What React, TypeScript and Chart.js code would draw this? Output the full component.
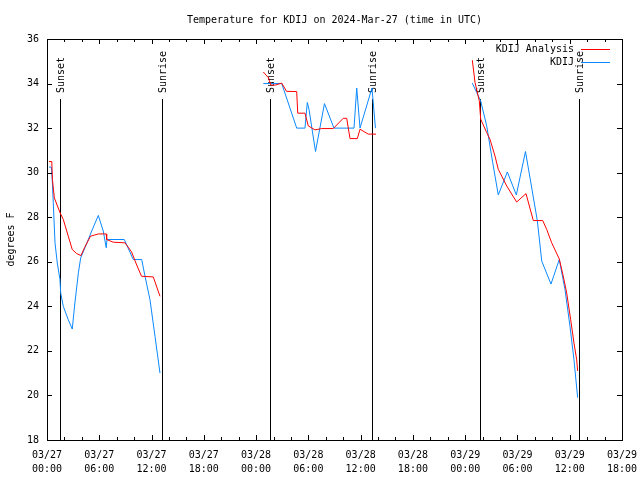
import React, { useEffect, useRef } from "react";
import { Chart, registerables } from "chart.js";

Chart.register(...registerables);

const TITLE = "Temperature for KDIJ on 2024-Mar-27 (time in UTC)";
const Y_TITLE = "degrees F";
const FONT = "'DejaVu Sans Mono', 'Liberation Mono', monospace";

// x axis: hours since 03/27 00:00 UTC
const X_MIN = 0;
const X_MAX = 66;
const xTickDays = ["03/27", "03/27", "03/27", "03/27", "03/28", "03/28", "03/28", "03/28", "03/29", "03/29", "03/29", "03/29"];
const xTickTimes = ["00:00", "06:00", "12:00", "18:00", "00:00", "06:00", "12:00", "18:00", "00:00", "06:00", "12:00", "18:00"];
const Y_MIN = 18;
const Y_MAX = 36;

const sunsetHours = [1.53, 25.63, 49.66];
const sunriseHours = [13.24, 37.3, 61.1];
const sunLineTop = 33.32;

// KDIJ Analysis (red)
const analysis1Hours = [0.23, 0.55, 0.62, 0.84, 1.5, 1.87, 2.44, 2.9, 3.4, 3.9, 4.3, 5.0, 5.9, 6.8, 6.85, 7.6, 8.95, 9.7, 10.3, 10.85, 12.2, 12.97];
const analysis1Temps = [30.5, 30.5, 29.7, 28.87, 28.2, 27.9, 27.15, 26.55, 26.37, 26.28, 26.63, 27.15, 27.25, 27.25, 27.0, 26.88, 26.85, 26.45, 25.85, 25.35, 25.32, 24.45];
const analysis2Hours = [24.83, 25.4, 25.7, 26.2, 26.94, 27.5, 28.66, 28.78, 29.61, 29.99, 30.76, 31.53, 32.86, 34.0, 34.4, 34.78, 35.62, 35.93, 36.88, 37.76];
const analysis2Temps = [34.52, 34.27, 33.93, 33.93, 34.02, 33.65, 33.64, 32.67, 32.67, 32.1, 31.92, 31.98, 31.98, 32.44, 32.44, 31.53, 31.53, 31.95, 31.73, 31.73];
const analysis3Hours = [48.82, 49.13, 49.62, 49.78, 50.47, 50.85, 51.42, 51.8, 52.77, 53.91, 54.98, 55.82, 56.9, 57.36, 57.93, 58.8, 59.26, 59.65, 60.11, 60.49, 60.8, 60.91];
const analysis3Temps = [35.05, 34.05, 33.22, 32.4, 31.8, 31.5, 30.75, 30.15, 29.4, 28.68, 29.06, 27.85, 27.85, 27.45, 26.85, 26.13, 25.35, 24.6, 23.4, 22.35, 21.6, 21.1];

// KDIJ observations (blue)
const obs1Hours = [0.23, 0.5, 0.6, 0.72, 0.92, 1.18, 1.49, 1.57, 1.87, 2.44, 2.9, 3.2, 3.6, 3.87, 4.36, 5.13, 5.89, 6.46, 6.8, 6.89, 8.87, 9.9, 10.87, 11.25, 11.82, 12.4, 12.97];
const obs1Temps = [30.25, 30.25, 29.7, 28.65, 26.85, 25.95, 25.2, 24.6, 24.0, 23.4, 22.98, 24.15, 25.5, 26.18, 26.63, 27.38, 28.08, 27.38, 26.63, 27.0, 27.0, 26.1, 26.1, 25.35, 24.3, 22.65, 21.0];
const obs2Hours = [24.83, 26.94, 28.66, 29.61, 29.88, 30.07, 30.82, 31.85, 32.94, 35.24, 35.55, 35.93, 37.3, 37.7];
const obs2Temps = [34.0, 34.0, 32.0, 32.0, 33.15, 32.85, 30.95, 33.1, 32.0, 32.0, 33.8, 32.0, 33.8, 32.0];
const obs3Hours = [48.82, 49.32, 49.78, 50.47, 51.16, 51.8, 52.84, 53.87, 54.92, 56.28, 56.79, 57.85, 58.8, 59.46, 60.03, 60.49, 60.91];
const obs3Temps = [34.02, 33.6, 33.22, 32.1, 30.45, 29.0, 30.03, 29.0, 30.95, 27.85, 26.03, 25.0, 26.1, 24.75, 23.1, 21.6, 19.9];

const RED = "#ff0000";
const BLUE = "#0a88ff";

type Pt = { x: number; y: number | null };

function joinSegments(segs: [number[], number[]][]): Pt[] {
  const out: Pt[] = [];
  segs.forEach(([hs, ts], i) => {
    if (i > 0) out.push({ x: (hs[0] + out[out.length - 1].x) / 2, y: null });
    hs.forEach((h, j) => out.push({ x: h, y: ts[j] }));
  });
  return out;
}

const decorPlugin = {
  id: "decor",
  beforeDatasetsDraw(chart: any) {
    const { ctx, chartArea, scales } = chart;
    const xs = scales.x;
    const ys = scales.y;
    ctx.save();
    ctx.strokeStyle = "#000";
    ctx.lineWidth = 1;
    const yTop = Math.round(ys.getPixelForValue(sunLineTop));
    const drawSun = (h: number, label: string) => {
      const px = Math.round(xs.getPixelForValue(h)) + 0.5;
      ctx.beginPath();
      ctx.moveTo(px, yTop);
      ctx.lineTo(px, chartArea.bottom);
      ctx.stroke();
      ctx.save();
      ctx.translate(px + 0.5, yTop - 6);
      ctx.rotate(-Math.PI / 2);
      ctx.fillStyle = "#000";
      ctx.font = `10px ${FONT}`;
      ctx.textAlign = "left";
      ctx.textBaseline = "middle";
      ctx.fillText(label, 0, 0);
      ctx.restore();
    };
    sunsetHours.forEach((h) => drawSun(h, "Sunset"));
    sunriseHours.forEach((h) => drawSun(h, "Sunrise"));
    ctx.restore();
  },
  afterDraw(chart: any) {
    const { ctx, chartArea, scales } = chart;
    const xs = scales.x;
    const ys = scales.y;
    const { left, right, top, bottom } = chartArea;
    ctx.save();
    ctx.strokeStyle = "#000";
    ctx.lineWidth = 1;
    ctx.strokeRect(Math.round(left) + 0.5, Math.round(top) + 0.5, Math.round(right - left), Math.round(bottom - top));
    ctx.beginPath();
    for (let h = X_MIN; h <= X_MAX; h += 2) {
      const px = Math.round(xs.getPixelForValue(h)) + 0.5;
      const len = h % 6 === 0 ? 5 : 3;
      ctx.moveTo(px, bottom);
      ctx.lineTo(px, bottom - len);
      ctx.moveTo(px, top);
      ctx.lineTo(px, top + len);
    }
    for (let v = Y_MIN; v <= Y_MAX; v += 2) {
      const py = Math.round(ys.getPixelForValue(v)) + 0.5;
      ctx.moveTo(left, py);
      ctx.lineTo(left + 5, py);
      ctx.moveTo(right, py);
      ctx.lineTo(right - 5, py);
    }
    ctx.stroke();

    ctx.fillStyle = "#000";
    ctx.font = `10px ${FONT}`;
    ctx.textAlign = "center";
    ctx.textBaseline = "middle";
    ctx.fillText(TITLE, (left + right) / 2, 20);

    ctx.save();
    ctx.translate(11, (top + bottom) / 2);
    ctx.rotate(-Math.PI / 2);
    ctx.fillText(Y_TITLE, 0, 0);
    ctx.restore();

    const ds = chart.data.datasets;
    ds.forEach((d: any, i: number) => {
      const y = Math.round(top + 10 + i * 13) + 0.5;
      ctx.textAlign = "right";
      ctx.fillStyle = "#000";
      ctx.fillText(d.label, right - 48, y);
      ctx.strokeStyle = d.borderColor;
      ctx.beginPath();
      ctx.moveTo(right - 41, y);
      ctx.lineTo(right - 12, y);
      ctx.stroke();
    });
    ctx.restore();
  },
};

export default function App() {
  const ref = useRef<HTMLCanvasElement | null>(null);
  useEffect(() => {
    document.body.style.margin = "0";
    const canvas = ref.current;
    if (!canvas) return;
    const chart = new Chart(canvas, {
      type: "line",
      data: {
        datasets: [
          {
            label: "KDIJ Analysis",
            data: joinSegments([
              [analysis1Hours, analysis1Temps],
              [analysis2Hours, analysis2Temps],
              [analysis3Hours, analysis3Temps],
            ]) as any,
            borderColor: RED,
            borderWidth: 1,
            pointRadius: 0,
            tension: 0,
            spanGaps: false,
          },
          {
            label: "KDIJ",
            data: joinSegments([
              [obs1Hours, obs1Temps],
              [obs2Hours, obs2Temps],
              [obs3Hours, obs3Temps],
            ]) as any,
            borderColor: BLUE,
            borderWidth: 1,
            pointRadius: 0,
            tension: 0,
            spanGaps: false,
          },
        ],
      },
      options: {
        responsive: false,
        animation: false,
        devicePixelRatio: 1,
        layout: { padding: { top: 39, right: 18, left: 0, bottom: 0 } },
        plugins: { legend: { display: false }, title: { display: false }, tooltip: { enabled: false } },
        scales: {
          x: {
            type: "linear",
            min: X_MIN,
            max: X_MAX,
            grid: { display: false, drawTicks: false },
            border: { display: false },
            afterBuildTicks: (s: any) => {
              s.ticks = xTickDays.map((_, i) => ({ value: X_MIN + i * 6 }));
            },
            ticks: {
              autoSkip: false,
              maxRotation: 0,
              minRotation: 0,
              padding: 9,
              color: "#000",
              font: { family: FONT, size: 10, lineHeight: 1.35 },
              callback: (v: any) => {
                const i = Math.round((Number(v) - X_MIN) / 6);
                return [xTickDays[i], xTickTimes[i]];
              },
            },
            afterFit: (s: any) => {
              s.height = 40;
              s.paddingLeft = 0;
              s.paddingRight = 0;
            },
          },
          y: {
            type: "linear",
            min: Y_MIN,
            max: Y_MAX,
            grid: { display: false, drawTicks: false },
            border: { display: false },
            ticks: {
              stepSize: 2,
              padding: 8,
              color: "#000",
              font: { family: FONT, size: 10 },
            },
            afterFit: (s: any) => {
              s.width = 47;
              s.paddingTop = 0;
              s.paddingBottom = 0;
            },
          },
        },
      },
      plugins: [decorPlugin],
    });
    return () => chart.destroy();
  }, []);
  return (
    <div style={{ position: "absolute", left: 0, top: 0, width: 640, height: 480, background: "#fff" }}>
      <canvas ref={ref} width={640} height={480} />
    </div>
  );
}
